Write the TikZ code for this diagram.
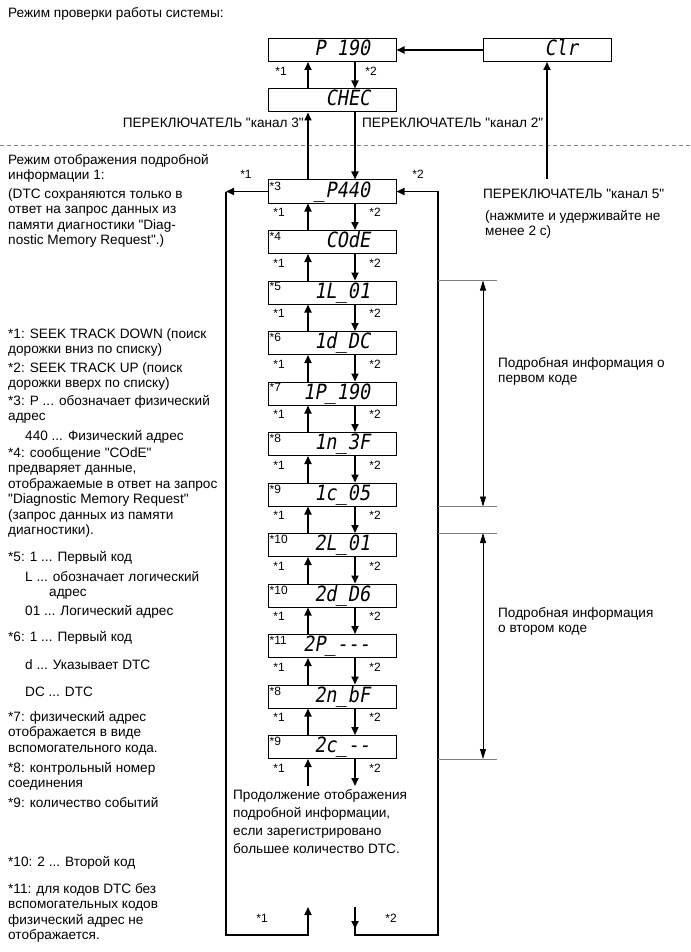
\documentclass[tikz,border=0pt]{standalone}
\usepackage{fontspec}
\setmainfont{Liberation Sans}[Ligatures=TeXOff]
\newfontfamily\lcdfont{DejaVu Sans Mono}[FakeSlant=0.18,FakeStretch=0.88]
\usepackage{tikz}
\usetikzlibrary{arrows.meta,positioning}

\newcommand\bodyfont{\fontsize{13.6}{15.5}\selectfont}
\newcommand\seg[2][76pt]{\makebox[#1][r]{#2}}

\begin{document}
\begin{tikzpicture}[x=1pt, y=-1pt,
    disp/.style={draw, line width=1pt, minimum width=128pt, minimum height=23pt, inner sep=0pt,
      font=\lcdfont\fontsize{21}{21}\selectfont, text height=15pt, text depth=4pt},
    txt/.style={anchor=north west, inner sep=0pt, align=left, font=\bodyfont, execute at begin node=\strut},
    star/.style={inner sep=0pt, font=\fontsize{12}{14}\selectfont},
    arr/.style={line width=1.8pt, -{Triangle[length=8pt,width=7pt]}},
    dimarr/.style={line width=0.8pt, {Triangle[length=10pt,width=6pt]}-{Triangle[length=10pt,width=6pt]}},
    guide/.style={line width=0.6pt, gray},
    sepline/.style={line width=0.8pt, gray, dash pattern=on 4pt off 3pt}]
  \useasboundingbox (0,0) rectangle (690,952);

  % columns of the arrows and the loop
  \coordinate (up) at (308,0);
  \coordinate (dn) at (355,0);
  \coordinate (lx) at (226,0);
  \coordinate (rx) at (438,0);
  \coordinate (base) at (0,935);
  \coordinate (brk) at (497,0);
  \coordinate (dim) at (483,0);

  % system check mode
  \node[txt] (ttl) at (8,6) {Режим проверки работы системы:};
  \node[disp] (p190) at (332,50) {\seg{P 190}};
  \node[disp] (chec) at (332,100.5) {\seg{CHEC}};
  \node[disp] (clr) at (547,50) {\seg[62pt]{Clr}};
  \node[star] (t1) at (281,71) {*1};
  \node[star] (t2) at (371,71) {*2};
  \node[txt, anchor=north east] (sw3) at (304,116) {ПЕРЕКЛЮЧАТЕЛЬ "канал 3"};
  \node[txt] (sw2) at (362,116) {ПЕРЕКЛЮЧАТЕЛЬ "канал 2"};
  \node[txt] (sw5) at (483,187) {ПЕРЕКЛЮЧАТЕЛЬ "канал 5"};
  \node[txt] (hold) at (485,210) {(нажмите и удерживайте не\\менее 2 с)};
  \coordinate (sw5top) at (547,179);

  \draw[sepline] (0,145) -- (690,145);

  % detail mode 1
  \foreach \t/\s [count=\i from 0] in {\_P440/3, COdE/4, 1L\_01/5, 1d\_DC/6, 1P\_190/7,
      1n\_3F/8, 1c\_05/9, 2L\_01/10, 2d\_D6/10, 2P\_-{}-{}-/11, 2n\_bF/8, 2c\_-{}-/9}
    \node[disp, label={[star, anchor=north west, inner sep=2pt]north west:*\s}] (dsp\i)
      at (332,{191.5+50.5*\i}) {\seg{\t}};
  \foreach \i in {0,...,11} {
    \node[star] (a\i) at (279,{212.5+50.5*\i}) {*1};
    \node[star] (z\i) at (375,{212.5+50.5*\i}) {*2};
  }
  \node[star] (l1) at (246,174) {*1};
  \node[star] (l2) at (418,174) {*2};
  \node[star] (e1) at (262,918) {*1};
  \node[star] (e2) at (391,918) {*2};

  % arrows
  \draw[arr] (chec.north -| up) -- (p190.south -| up);
  \draw[arr] (p190.south -| dn) -- (chec.north -| dn);
  \draw[arr] (dsp0.north -| up) -- (chec.south -| up);
  \draw[arr] (chec.south -| dn) -- (dsp0.north -| dn);
  \draw[arr] (clr.west) -- (p190.east);
  \draw[arr] (sw5top) -- (clr.south);
  \foreach \i [evaluate=\i as \j using int(\i+1)] in {0,...,10} {
    \draw[arr] (dsp\j.north -| up) -- (dsp\i.south -| up);
    \draw[arr] (dsp\i.south -| dn) -- (dsp\j.north -| dn);
  }
  \coordinate (cup) at (308,786);
  \coordinate (cdn) at (355,786);
  \draw[arr] (cup) -- (dsp11.south -| cup);
  \draw[arr] (dsp11.south -| cdn) -- (cdn);
  \node[txt, font=\fontsize{13.6}{18}\selectfont] (more) at (233,789)
    {Продолжение отображения\\подробной информации,\\если зарегистрировано\\большее количество DTC.};

  % outer loop
  \coordinate (upend) at (308,907);
  \coordinate (dnbeg) at (355,907);
  \draw[arr] (dsp0.west) -- (dsp0.west -| lx);
  \draw[arr] (dsp0.west -| lx) -- (lx |- base) -- (upend |- base) -- (upend);
  \draw[arr] (dnbeg) -- (dnbeg |- base) -- (rx |- base) -- (dsp0.east -| rx) -- (dsp0.east);
  \draw[arr] (dnbeg) -- ++(0,22);

  % first / second code
  \draw[guide] (dsp2.north -| rx) -- (dsp2.north -| brk);
  \draw[guide] (dsp6.south -| rx) -- (dsp6.south -| brk);
  \draw[guide] (dsp7.north -| rx) -- (dsp7.north -| brk);
  \draw[guide] (dsp11.south -| rx) -- (dsp11.south -| brk);
  \draw[dimarr] (dsp2.north -| dim) -- (dsp6.south -| dim);
  \draw[dimarr] (dsp7.north -| dim) -- (dsp11.south -| dim);
  \node[txt] (first) at (498,357) {Подробная информация о\\первом коде};
  \node[txt] (second) at (498,607) {Подробная информация\\о втором коде};

  % notes on the left
  \node[txt] (mode1) at (8,154) {Режим отображения подробной\\информации 1:};
  \node[txt] (dtcnote) at (8,188) {(DTC сохраняются только в\\ответ на запрос данных из\\памяти диагностики "Diag-\\nostic Memory Request".)};
  \node[txt] (n1) at (8,328) {*1: SEEK TRACK DOWN (поиск\\дорожки вниз по списку)};
  \node[txt] (n2) at (8,362) {*2: SEEK TRACK UP (поиск\\дорожки вверх по списку)};
  \node[txt] (n3) at (8,395) {*3: P ... обозначает физический\\адрес};
  \node[txt] (n3a) at (25,429) {440 ... Физический адрес};
  \node[txt] (n4) at (8,447) {*4: сообщение "COdE"\\предваряет данные,\\отображаемые в ответ на запрос\\"Diagnostic Memory Request"\\(запрос данных из памяти\\диагностики).};
  \node[txt] (n5) at (8,550) {*5: 1 ... Первый код};
  \node[txt] (n5a) at (25,571) {L ... обозначает логический\\\hspace*{24pt}адрес};
  \node[txt] (n5b) at (25,604) {01 ... Логический адрес};
  \node[txt] (n6) at (8,630) {*6: 1 ... Первый код};
  \node[txt] (n6a) at (25,658) {d ... Указывает DTC};
  \node[txt] (n6b) at (25,685) {DC ... DTC};
  \node[txt] (n7) at (8,711) {*7: физический адрес\\отображается в виде\\вспомогательного кода.};
  \node[txt] (n8) at (8,762) {*8: контрольный номер\\соединения};
  \node[txt] (n9) at (8,796) {*9: количество событий};
  \node[txt] (n10) at (8,855) {*10: 2 ... Второй код};
  \node[txt] (n11) at (8,883) {*11: для кодов DTC без\\вспомогательных кодов\\физический адрес не\\отображается.};
\end{tikzpicture}
\end{document}
